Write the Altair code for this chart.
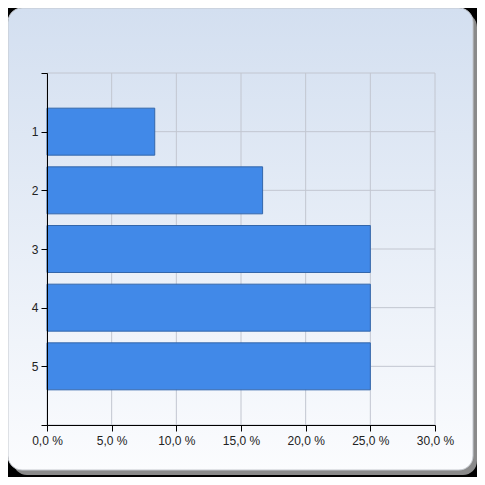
import altair as alt
import pandas as pd

categories = [1, 2, 3, 4, 5]
values = [8.33, 16.67, 25.0, 25.0, 25.0]
x_ticks = [0, 5, 10, 15, 20, 25, 30]
y_ticks = [0, 1, 2, 3, 4, 5, 6]

df = pd.DataFrame({"cat": categories, "val": values})
one = pd.DataFrame({"k": [0]})
xt = pd.DataFrame({"t": x_ticks})
yt = pd.DataFrame({"t": y_ticks})

XS = alt.Scale(domain=[0, 30], nice=False, padding=0)
YS = alt.Scale(domain=[0, 6], reverse=True, nice=False, zero=False, padding=0)
GRID = "#c2c6d0"

XA = alt.Axis(values=x_ticks, title=None, grid=False, zindex=1,
              labelExpr="replace(format(datum.value, '.1f'), '.', ',') + ' %'",
              labelFlush=False, labelOverlap=False,
              domainColor="#000000", tickColor="#000000", tickSize=6,
              labelPadding=4, labelFont="Liberation Sans", labelFontSize=12,
              labelColor="#222222")
YA = alt.Axis(values=y_ticks, title=None, grid=False, zindex=1,
              labelExpr="datum.value == 0 || datum.value == 6 ? '' : datum.value",
              labelFlush=False, labelOverlap=False,
              domainColor="#000000", tickColor="#000000", tickSize=6,
              labelPadding=3, labelFont="Liberation Sans", labelFontSize=12,
              labelColor="#222222")

shadow = alt.Chart(one).mark_rect(cornerRadius=14, color="#8a8a8a").encode(
    x=alt.value(-34), x2=alt.value(430), y=alt.value(-60), y2=alt.value(402)
)
panel = alt.Chart(one).mark_rect(
    cornerRadius=14,
    stroke="#c4c8ce",
    strokeWidth=1,
    color=alt.Gradient(
        gradient="linear",
        stops=[alt.GradientStop(color="#d3dff0", offset=0),
               alt.GradientStop(color="#fbfcfe", offset=1)],
        x1=0, x2=0, y1=0, y2=1,
    ),
).encode(x=alt.value(-39), x2=alt.value(426), y=alt.value(-65), y2=alt.value(397))

vgrid = alt.Chart(xt).mark_rule(color=GRID, strokeWidth=1).encode(
    x=alt.X("t:Q", scale=XS, axis=XA), y=alt.value(0), y2=alt.value(352)
)
hgrid = alt.Chart(yt).mark_rule(color=GRID, strokeWidth=1).encode(
    y=alt.Y("t:Q", scale=YS, axis=YA), x=alt.value(0), x2=alt.value(388)
)

bars = alt.Chart(df).mark_bar(
    orient="horizontal", size=47, color="#4189e8", stroke="#3366aa", strokeWidth=1
).encode(
    x=alt.X("val:Q", scale=XS, axis=XA),
    y=alt.Y("cat:Q", scale=YS, axis=YA),
)

chart = alt.layer(shadow, panel, vgrid, hgrid, bars).properties(
    width=388, height=352,
    autosize=alt.AutoSizeParams(type="none"),
    padding={"left": 39, "top": 65, "right": 42, "bottom": 52},
    background="#000000",
).configure_view(stroke=None)

chart.save("out.html", embed_options={"renderer": "svg", "actions": False})
